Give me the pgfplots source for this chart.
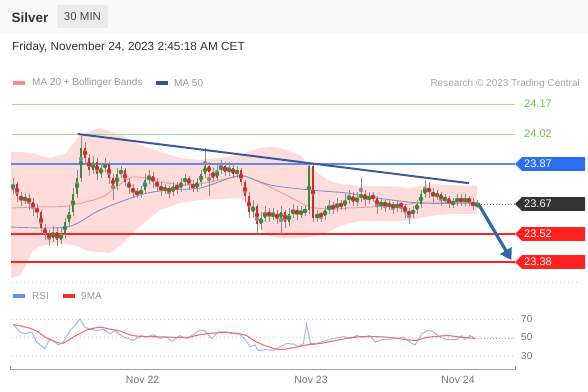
\documentclass[border=0pt]{standalone}
\usepackage{pgfplots}
\pgfplotsset{compat=1.18}
\usepackage{pgfplotstable}
\usetikzlibrary{arrows.meta}
\usepackage{fontspec}
\setmainfont{Liberation Sans}
\newcommand\fs[1]{\fontsize{#1}{#1}\selectfont}

\definecolor{cgreen}{HTML}{3A8A3A}
\definecolor{cred}{HTML}{D42A2A}
\definecolor{wick}{HTML}{8C8C8C}
\definecolor{bbfill}{HTML}{FFDCDC}
\definecolor{ma20}{HTML}{F39A9A}
\definecolor{ma50}{HTML}{7F96C6}
\definecolor{lgreen}{HTML}{A9D88C}
\definecolor{tgreen}{HTML}{7DBE4E}
\definecolor{lblue}{HTML}{5B8DEF}
\definecolor{bblue}{HTML}{2B6EF2}
\definecolor{lred}{HTML}{FF2020}
\definecolor{trend}{HTML}{3D5A9A}
\definecolor{arrowc}{HTML}{3466AA}
\definecolor{rsiblue}{HTML}{9EB9F0}
\definecolor{rsired}{HTML}{F27070}
\definecolor{txtgray}{HTML}{9A9A9A}
\definecolor{labgray}{HTML}{777777}
\definecolor{gridgray}{HTML}{CCCCCC}
\definecolor{dark}{HTML}{333333}
\definecolor{legpink}{HTML}{FF8A8A}
\definecolor{legblue}{HTML}{2F5597}
\definecolor{legrsi}{HTML}{6B8FE8}
\definecolor{legred}{HTML}{FF2A2A}
\definecolor{dotline}{HTML}{5A6A8A}
\definecolor{axgray}{HTML}{A0A0A0}

\pgfplotstableread{
x o h l c
0 23.74 23.80 23.72 23.77
1 23.77 23.78 23.68 23.71
2 23.71 23.73 23.66 23.69
3 23.69 23.72 23.67 23.70
4 23.70 23.72 23.64 23.68
5 23.68 23.70 23.61 23.65
6 23.65 23.67 23.60 23.63
7 23.63 23.64 23.52 23.55
8 23.55 23.57 23.49 23.52
9 23.52 23.54 23.46 23.50
10 23.50 23.56 23.48 23.53
11 23.53 23.55 23.46 23.49
12 23.49 23.55 23.47 23.52
13 23.52 23.60 23.50 23.58
14 23.58 23.66 23.56 23.63
15 23.63 23.75 23.61 23.72
16 23.72 23.84 23.70 23.80
17 23.80 24.01 23.78 23.95
18 23.95 23.98 23.87 23.90
19 23.90 23.92 23.81 23.84
20 23.84 23.91 23.82 23.88
21 23.88 23.90 23.79 23.82
22 23.82 23.87 23.80 23.85
23 23.85 23.90 23.83 23.87
24 23.87 23.88 23.77 23.80
25 23.80 23.82 23.69 23.76
26 23.76 23.85 23.74 23.82
27 23.82 23.86 23.80 23.84
28 23.84 23.85 23.76 23.78
29 23.78 23.80 23.72 23.75
30 23.75 23.77 23.70 23.73
31 23.73 23.75 23.70 23.72
32 23.72 23.76 23.70 23.74
33 23.74 23.82 23.72 23.79
34 23.79 23.84 23.77 23.81
35 23.81 23.83 23.75 23.78
36 23.78 23.80 23.73 23.76
37 23.76 23.78 23.71 23.74
38 23.74 23.77 23.72 23.75
39 23.75 23.76 23.70 23.73
40 23.73 23.78 23.71 23.76
41 23.76 23.78 23.72 23.75
42 23.75 23.80 23.73 23.78
43 23.78 23.82 23.76 23.80
44 23.80 23.81 23.74 23.77
45 23.77 23.79 23.73 23.75
46 23.75 23.80 23.73 23.78
47 23.78 23.84 23.76 23.82
48 23.82 23.95 23.80 23.86
49 23.86 23.88 23.71 23.83
50 23.83 23.85 23.78 23.80
51 23.80 23.87 23.79 23.84
52 23.84 23.89 23.82 23.86
53 23.86 23.88 23.81 23.83
54 23.83 23.88 23.81 23.85
55 23.85 23.87 23.80 23.82
56 23.82 23.86 23.80 23.84
57 23.84 23.85 23.76 23.78
58 23.78 23.79 23.68 23.71
59 23.71 23.73 23.60 23.63
60 23.63 23.69 23.60 23.66
61 23.66 23.67 23.52 23.57
62 23.57 23.63 23.54 23.60
63 23.60 23.66 23.58 23.63
64 23.63 23.65 23.58 23.61
65 23.61 23.65 23.59 23.62
66 23.62 23.64 23.57 23.60
67 23.60 23.66 23.52 23.63
68 23.63 23.64 23.55 23.58
69 23.58 23.65 23.56 23.62
70 23.62 23.67 23.60 23.64
71 23.64 23.66 23.59 23.62
72 23.62 23.66 23.60 23.63
73 23.63 23.66 23.61 23.64
74 23.64 23.88 23.62 23.86
75 23.86 23.87 23.58 23.60
76 23.60 23.64 23.58 23.62
77 23.62 23.63 23.58 23.61
78 23.61 23.66 23.59 23.64
79 23.64 23.69 23.62 23.66
80 23.66 23.68 23.62 23.65
81 23.65 23.70 23.63 23.67
82 23.67 23.69 23.64 23.66
83 23.66 23.72 23.64 23.69
84 23.69 23.74 23.67 23.71
85 23.71 23.73 23.66 23.68
86 23.68 23.73 23.66 23.70
87 23.70 23.80 23.68 23.72
88 23.72 23.74 23.66 23.69
89 23.69 23.73 23.67 23.71
90 23.71 23.73 23.68 23.70
91 23.70 23.71 23.62 23.66
92 23.66 23.70 23.64 23.68
93 23.68 23.69 23.63 23.66
94 23.66 23.69 23.64 23.67
95 23.67 23.68 23.62 23.65
96 23.65 23.69 23.63 23.67
97 23.67 23.68 23.63 23.66
98 23.66 23.67 23.60 23.63
99 23.63 23.65 23.57 23.62
100 23.62 23.66 23.60 23.64
101 23.64 23.69 23.62 23.67
102 23.67 23.74 23.65 23.72
103 23.72 23.79 23.70 23.75
104 23.75 23.78 23.70 23.73
105 23.73 23.75 23.68 23.71
106 23.71 23.74 23.69 23.72
107 23.72 23.73 23.66 23.69
108 23.69 23.72 23.67 23.70
109 23.70 23.71 23.65 23.67
110 23.67 23.70 23.65 23.68
111 23.68 23.72 23.66 23.70
112 23.70 23.72 23.66 23.68
113 23.68 23.72 23.66 23.70
114 23.70 23.71 23.66 23.68
115 23.68 23.70 23.64 23.66
116 23.66 23.69 23.65 23.67
}\candles

% Bollinger envelope: upper band left to right, then lower band right to left
\pgfplotstableread{
x y
-0.5 23.93
1.75 23.93
4.25 23.925
5.5 23.92
9.25 23.90
13 23.92
16.75 24.015
21.75 24.05
26.75 24.015
31.75 23.965
36.75 23.93
41.75 23.90
46.75 23.89
51.75 23.90
56.75 23.915
59.25 23.935
61.75 23.95
64.25 23.955
66.75 23.95
71.75 23.915
73.5 23.875
76.75 23.815
79.25 23.785
81.75 23.77
84.25 23.765
86.75 23.76
91.75 23.76
96.75 23.755
99.25 23.75
104.25 23.77
109.25 23.765
116 23.76
116 23.62
109.25 23.62
104.25 23.61
99.25 23.59
96.75 23.585
91.75 23.585
86.75 23.585
84.25 23.575
81.75 23.56
79.25 23.535
76.75 23.515
74.25 23.505
71.75 23.50
66.75 23.50
64.25 23.51
61.75 23.55
59.25 23.65
56.75 23.70
51.75 23.695
46.75 23.69
41.75 23.675
36.75 23.64
31.75 23.56
26.75 23.46
24.25 23.425
18.5 23.435
16 23.46
13.5 23.47
7.5 23.465
5 23.44
3 23.355
1.75 23.31
-0.5 23.30
}\bandpoly

\pgfplotstableread{
x v
-0.5 23.65
6 23.655
13.5 23.66
21.75 23.70
24.25 23.73
30 23.805
36.75 23.78
44.25 23.765
51.75 23.79
56.75 23.81
59.25 23.80
64.25 23.755
69.25 23.705
74.25 23.655
79.25 23.645
84.25 23.65
89.25 23.655
96.75 23.665
104.25 23.68
116 23.675
}\mavingt

\pgfplotstableread{
x v
-0.5 23.555
13.5 23.555
21.75 23.64
31.75 23.715
38.5 23.74
46.75 23.75
54.25 23.80
57.75 23.81
64.25 23.765
74.25 23.74
83.5 23.725
89.25 23.705
101.75 23.675
116 23.675
}\mafifty

\pgfplotstableread{
x y
0.1 64
1.75 55.8
3 54
4.7 56
5.9 45
8 38
9.25 49
10.5 45
11.3 42
12.6 45
14.25 57.6
15.5 63
16.75 70
18 61
19.25 59
20.9 57.6
22.6 59
24.25 54
25.5 57.6
27.6 50.5
30.1 47
32.2 52
33.4 50.5
35.1 53
36.75 49
38.4 50.5
39.7 46
41.75 52
43.4 49
45.1 53
46.75 58
48 57
49.7 49
51.3 56
53.4 56
55.1 54
56.75 53.5
58 48
59.25 40
60.5 42
61.3 36
63.4 37
65.1 36
66.75 40
68.4 43.5
70.1 43
71.3 40
72.6 43.5
73.4 64
74.4 43.5
75.9 43.5
78.4 47
80.1 49
82.6 51
84.25 49
85.9 52
87.6 50.5
89.25 52
90.5 45
92.2 47.7
93.8 47.7
95.9 49
97.6 50.5
99.25 45
100.5 42
102.2 54
103.8 58
105.1 56
106.75 50.5
108.4 47.7
110.9 47.7
112.2 52
113 47.7
114.25 52
115.5 49
}\rsi

\pgfplotstableread{
x y
0.1 64
3.4 61
5.9 57
8.4 49.5
10.9 45
12.6 44
15.1 50.5
18.4 58
21.75 61
24.25 59
26.75 57
30.1 52
34.25 51
38.4 50.5
43.4 50
46.75 53
50.9 55
55.1 55
58.4 52
60.1 47
63.4 40.6
66.75 37
70.1 39
73.4 42
76.75 43.5
81.75 47.7
85.9 50.5
90.1 51
94.25 50
98.4 47.7
100.9 47
103.4 50
108.4 52
111.75 50.5
115.5 49
}\rsima

\newcommand\pbox[3]{%
  \fill[#2] (axis cs:125.5,#1) -- ([xshift=7pt,yshift=6.8pt]axis cs:125.5,#1)
    -- ([xshift=70pt,yshift=6.8pt]axis cs:125.5,#1) -- ([xshift=70pt,yshift=-6.8pt]axis cs:125.5,#1)
    -- ([xshift=7pt,yshift=-6.8pt]axis cs:125.5,#1) -- cycle;
  \node[anchor=west, text=white, font=\fs{11}, inner sep=0pt] at ([xshift=9pt]axis cs:125.5,#1) {#3};}

\begin{document}
\begin{tikzpicture}
\fill[white] (0,0) rectangle (588pt,391pt);
\fill[black!2] (0,358pt) rectangle (588pt,391pt);
% header
\node[anchor=base west, inner sep=0pt, font=\bfseries\fs{13.5}, text=dark] at (11.5pt,368.5pt) {Silver};
\fill[black!8, rounded corners=1.5pt] (57pt,363pt) rectangle (108pt,386pt);
\node[inner sep=0pt, font=\fs{11.5}, text=black!70] at (82.5pt,374.5pt) {30 MIN};
\node[anchor=base west, inner sep=0pt, font=\fs{11.8}, text=dark] at (12pt,340pt) {Friday, November 24, 2023 2:45:18 AM CET};
% legend
\fill[legpink] (13pt,305.7pt) rectangle (25pt,309.7pt);
\node[anchor=west, inner sep=0pt, font=\fs{10}, text=txtgray] at (32pt,307.7pt) {MA 20 + Bollinger Bands};
\fill[legblue] (156pt,305.7pt) rectangle (168pt,309.7pt);
\node[anchor=west, inner sep=0pt, font=\fs{10}, text=txtgray] at (174pt,307.7pt) {MA 50};
\node[anchor=east, inner sep=0pt, font=\fs{10}, text=black!35] at (580pt,307pt) {Research © 2023 Trading Central};
% separator
\draw[gridgray, line width=0.8pt, dash pattern=on 1pt off 3pt] (12pt,109pt) -- (578pt,109pt);
% RSI legend
\fill[legrsi] (13pt,93.3pt) rectangle (25pt,97.3pt);
\node[anchor=west, inner sep=0pt, font=\fs{10}, text=txtgray] at (32pt,95.3pt) {RSI};
\fill[legred] (63pt,93.3pt) rectangle (75pt,97.3pt);
\node[anchor=west, inner sep=0pt, font=\fs{10}, text=txtgray] at (81pt,95.3pt) {9MA};

\begin{axis}[at={(10pt,116pt)}, anchor=south west, scale only axis,
  width=505pt, height=180pt, xmin=-0.75, xmax=125.5, ymin=23.315, ymax=24.215,
  hide axis, clip=false]
  \addplot[fill=bbfill, draw=none, forget plot] table[x=x,y=y]{\bandpoly};
  % levels
  \addplot[lgreen, line width=0.8pt] coordinates {(-0.25,24.17) (125.5,24.17)};
  \addplot[lgreen, line width=0.8pt] coordinates {(-0.25,24.02) (125.5,24.02)};
  \addplot[lblue, line width=1.5pt] coordinates {(-0.5,23.87) (125.5,23.87)};
  \addplot[lred, line width=2pt] coordinates {(-0.5,23.52) (125.5,23.52)};
  \addplot[lred, line width=2pt] coordinates {(-0.5,23.38) (125.5,23.38)};
  \addplot[dotline, line width=0.8pt, dash pattern=on 1pt off 2pt] coordinates {(116.3,23.67) (125.5,23.67)};
  % moving averages
  \addplot[ma20, line width=0.9pt, smooth, tension=0.5] table[x=x,y=v]{\mavingt};
  \addplot[ma50, line width=0.9pt, smooth, tension=0.5] table[x=x,y=v]{\mafifty};
  % candles: wicks
  \addplot[wick, only marks, mark=none, error bars/.cd, y dir=both, y explicit,
    error mark=none, error bar style={wick, line width=0.7pt}]
    table[x=x, y expr={(\thisrow{h}+\thisrow{l})/2}, y error expr={(\thisrow{h}-\thisrow{l})/2}]{\candles};
  % bodies up
  \addplot[cgreen, only marks, mark=none, unbounded coords=discard, error bars/.cd, y dir=both, y explicit,
    error mark=none, error bar style={cgreen, line width=2.8pt}]
    table[x=x, y expr={\thisrow{c}>\thisrow{o} ? (\thisrow{o}+\thisrow{c})/2 : nan},
      y error expr={abs(\thisrow{c}-\thisrow{o})/2+0.002}]{\candles};
  % bodies down
  \addplot[cred, only marks, mark=none, unbounded coords=discard, error bars/.cd, y dir=both, y explicit,
    error mark=none, error bar style={cred, line width=2.8pt}]
    table[x=x, y expr={\thisrow{c}<\thisrow{o} ? (\thisrow{o}+\thisrow{c})/2 : nan},
      y error expr={abs(\thisrow{c}-\thisrow{o})/2+0.002}]{\candles};
  % trend line and arrow
  \addplot[trend, line width=2pt] coordinates {(16.2,24.02) (114,23.774)};
  \addplot[arrowc, line width=3.2pt, -{Triangle[length=11pt,width=13pt]}] coordinates {(116.3,23.672) (124.6,23.39)};
  % labels
  \node[anchor=west, inner sep=0pt, font=\fs{11}, text=tgreen] at (axis cs:127.75,24.17) {24.17};
  \node[anchor=west, inner sep=0pt, font=\fs{11}, text=tgreen] at (axis cs:127.75,24.02) {24.02};
  \pbox{23.87}{bblue}{23.87}
  \pbox{23.67}{dark}{23.67}
  \pbox{23.52}{lred}{23.52}
  \pbox{23.38}{lred}{23.38}
\end{axis}

\begin{axis}[at={(10pt,22pt)}, anchor=south west, scale only axis,
  width=505pt, height=64pt, xmin=-0.75, xmax=125.5, ymin=16, ymax=85.1,
  axis line style={draw=none}, major tick length=0pt, tick style={draw=none},
  ytick=\empty, xtick={32.4,74.5,111.25}, xticklabels={Nov 22,Nov 23,Nov 24},
  xticklabel style={font=\fs{10.5}, text=labgray, yshift=-4pt}, clip=false]
  \addplot[gridgray, line width=0.8pt, dash pattern=on 1pt off 3pt] coordinates {(-0.25,70) (125.5,70)};
  \addplot[gridgray, line width=0.8pt, dash pattern=on 1pt off 3pt] coordinates {(-0.25,50) (125.5,50)};
  \addplot[gridgray, line width=0.8pt, dash pattern=on 1pt off 3pt] coordinates {(-0.25,30) (125.5,30)};
  \addplot[rsiblue, line width=0.8pt, dash pattern=on 1pt off 2pt] coordinates {(115.5,49) (125.5,49)};
  \addplot[rsiblue, line width=1pt] table[x=x,y=y]{\rsi};
  \addplot[rsired, line width=1.1pt, smooth, tension=0.5] table[x=x,y=y]{\rsima};
  \draw[axgray, line width=0.8pt] ([yshift=3pt]rel axis cs:0,0) -- (rel axis cs:0,0) -- (rel axis cs:1,0) -- ([yshift=3pt]rel axis cs:1,0);
  \node[anchor=west, inner sep=0pt, font=\fs{10}, text=labgray] at (axis cs:127,70) {70};
  \node[anchor=west, inner sep=0pt, font=\fs{10}, text=labgray] at (axis cs:127,50) {50};
  \node[anchor=west, inner sep=0pt, font=\fs{10}, text=labgray] at (axis cs:127,30) {30};
\end{axis}
\end{tikzpicture}
\end{document}
